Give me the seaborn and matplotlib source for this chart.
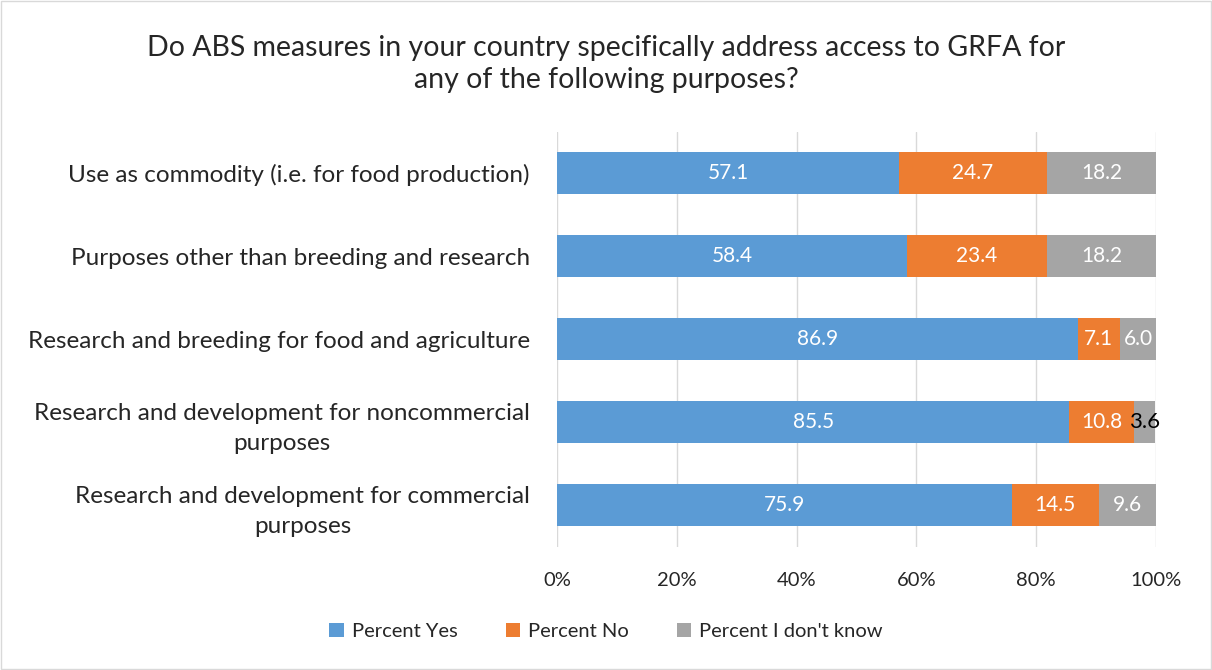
import matplotlib
matplotlib.use("Agg")
import matplotlib.pyplot as plt
import seaborn as sns
import pandas as pd
import numpy as np
from matplotlib.patches import Patch

categories = [
    "Use as commodity (i.e. for food production)",
    "Purposes other than breeding and research",
    "Research and breeding for food and agriculture",
    "Research and development for noncommercial\npurposes",
    "Research and development for commercial\npurposes",
]
pct_yes = [57.1, 58.4, 86.9, 85.5, 75.9]
pct_no = [24.7, 23.4, 7.1, 10.8, 14.5]
pct_dk = [18.2, 18.2, 6.0, 3.6, 9.6]
series_names = ["Percent Yes", "Percent No", "Percent I don't know"]
x_ticks = [0, 20, 40, 60, 80, 100]

colors = ["#5B9BD5", "#ED7D31", "#A5A5A5"]

sns.set_theme(style="white")
plt.rcParams["font.family"] = ["Lato", "DejaVu Sans"]

df = pd.DataFrame({"cat": categories, "yes": pct_yes, "no": pct_no, "dk": pct_dk})
df["c1"] = df["yes"]
df["c2"] = df["yes"] + df["no"]
df["c3"] = df["yes"] + df["no"] + df["dk"]

fig = plt.figure(figsize=(12.12, 6.70), dpi=100)
ax = fig.add_axes([0.4596, 0.1843, 0.4942, 0.6194])

for col, color in zip(["c3", "c2", "c1"], colors[::-1]):
    sns.barplot(data=df, x=col, y="cat", orient="h", color=color, width=0.5,
                ax=ax, saturation=1, zorder=3, edgecolor="none")

# labels
for i, row in df.iterrows():
    segs = [(0, row["yes"]), (row["yes"], row["no"]), (row["c2"], row["dk"])]
    for j, (start, w) in enumerate(segs):
        txtcolor = "white"
        fs = 15
        if w < 5:
            txtcolor = "black"
            fs = 16
        ax.text(start + w / 2, i, f"{w:.1f}", ha="center", va="center",
                color=txtcolor, fontsize=fs, zorder=5)

ax.set_xlim(0, 100)
ax.set_ylim(4.5, -0.5)
ax.set_xticks(x_ticks)
ax.set_xticklabels([f"{t}%" for t in x_ticks], fontsize=14.5, color="#262626")
ax.tick_params(axis="y", labelsize=17.5, colors="#262626", length=0, pad=19.5)
ax.tick_params(axis="x", length=0, pad=18)
for lbl in ax.get_yticklabels():
    lbl.set_horizontalalignment("right")
    lbl.set_multialignment("center")
    lbl.set_linespacing(1.5)
ax.set_xlabel("")
ax.set_ylabel("")
ax.grid(axis="x", color="#D9D9D9", linewidth=1, zorder=0)
ax.grid(axis="y", visible=False)
for s in ax.spines.values():
    s.set_visible(False)

fig.suptitle("Do ABS measures in your country specifically address access to GRFA for\nany of the following purposes?",
             fontsize=20.5, color="#262626", y=0.948, linespacing=1.3)

handles = [Patch(facecolor=c, edgecolor="none") for c in colors]
fig.legend(handles, series_names, loc="center", bbox_to_anchor=(0.5, 0.058), ncol=3,
           frameon=False, fontsize=14.5, handlelength=0.7, handleheight=0.7,
           columnspacing=2.4, handletextpad=0.4)

border = plt.Rectangle((0.001, 0.001), 0.998, 0.998, transform=fig.transFigure,
                       fill=False, edgecolor="#D9D9D9", linewidth=1)
fig.patches.append(border)

fig.savefig("out.png", dpi=100, facecolor="white")
